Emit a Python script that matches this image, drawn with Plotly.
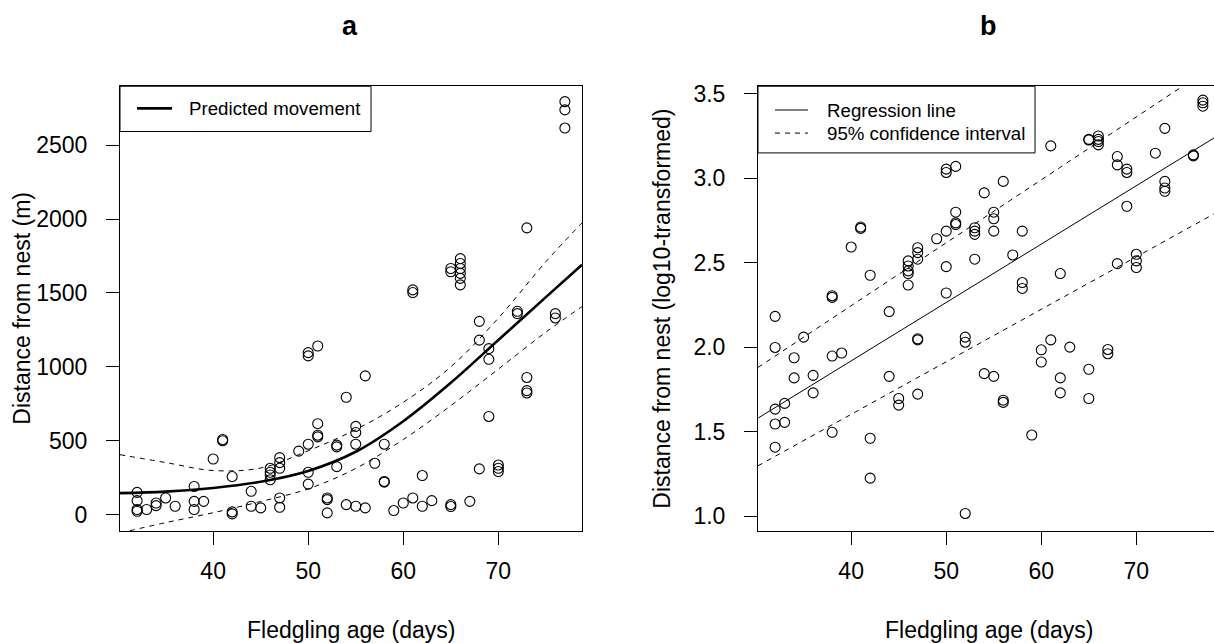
import plotly.graph_objects as go

# ---------------- Panel a data ----------------
age_a = [77, 77, 77, 73, 66, 66, 66, 66, 66, 66, 65, 65, 61, 61, 68, 68, 69, 69,
         72, 72, 76, 76, 73, 73, 73, 69, 70, 70, 70, 68, 50, 50, 51, 56, 54,
         51, 51, 51, 50, 49, 53, 53, 55, 55, 55, 58, 57, 58, 58, 62, 53, 50, 50,
         47, 47, 47, 46, 46, 46, 46, 41, 41, 40, 42, 38, 38, 38, 39, 35, 34, 34,
         32, 32, 32, 32, 33, 36, 42, 42, 44, 44, 45, 47, 47, 52, 52, 52, 54, 55,
         56, 59, 60, 61, 62, 63, 65, 65, 67]
dist_a = [2796, 2740, 2617, 1941, 1733, 1700, 1666, 1633, 1599, 1555, 1666, 1644,
          1521, 1503, 1308, 1181, 1123, 1051, 1376, 1360, 1360, 1331, 928, 839, 823,
          664, 335, 313, 291, 309, 1096, 1074, 1141, 939, 794, 615, 537, 526, 476,
          429, 470, 458, 597, 555, 476, 476, 347, 224, 219, 264, 324, 286, 206,
          385, 351, 313, 313, 286, 268, 235, 508, 499, 376, 257, 190, 89, 34, 89,
          112, 78, 60, 150, 94, 34, 22, 34, 56, 18, 4, 157, 56, 45, 112, 49, 112,
          101, 11, 67, 56, 45, 27, 78, 112, 56, 94, 67, 54, 89]

curve_x = [30.2, 35, 40, 45, 50, 55, 60, 65, 70, 75, 78.8]
pred_y = [145, 155, 180, 222, 295, 425, 632, 892, 1182, 1472, 1692]
up_y = [405, 352, 298, 315, 432, 575, 760, 1000, 1330, 1712, 1975]
lo_y = [-125, -55, 12, 88, 174, 312, 508, 737, 985, 1235, 1408]

# ---------------- Panel b data ----------------
age_b = [77, 77, 77, 73, 72, 76, 76, 65, 65, 66, 66, 66, 66, 61, 68, 68, 69, 69, 69,
         73, 73, 73, 50, 50, 51, 56, 54, 51, 51, 51, 55, 55, 55, 53, 53, 53, 50, 49,
         58, 57, 53, 50, 50, 47, 47, 47, 46, 46, 46, 46, 46, 41, 41, 40, 42, 38, 38,
         32, 44, 47, 47, 52, 52, 61, 63, 60, 60, 67, 67, 58, 58, 62, 68, 70, 70, 70,
         32, 35, 34, 34, 38, 39, 36, 36, 44, 32, 33, 32, 33, 32, 38, 45, 45, 47, 54,
         55, 56, 56, 62, 62, 65, 65, 59, 42, 42, 52]
logd_b = [3.461, 3.445, 3.425, 3.294, 3.147, 3.131, 3.137, 3.229, 3.225, 3.249,
          3.229, 3.216, 3.196, 3.190, 3.127, 3.078, 3.053, 3.033, 2.833, 2.980,
          2.941, 2.922, 3.053, 3.033, 3.069, 2.980, 2.912, 2.798, 2.735, 2.725,
          2.798, 2.759, 2.686, 2.706, 2.686, 2.667, 2.686, 2.641, 2.686, 2.545,
          2.520, 2.476, 2.320, 2.588, 2.559, 2.520, 2.510, 2.480, 2.451, 2.435,
          2.367, 2.710, 2.702, 2.592, 2.425, 2.304, 2.294, 2.182, 2.210, 2.049,
          2.043, 2.059, 2.029, 2.043, 2.000, 1.984, 1.912, 1.986, 1.961, 2.382,
          2.347, 2.435, 2.494, 2.549, 2.510, 2.471, 1.998, 2.059, 1.937, 1.818,
          1.947, 1.965, 1.833, 1.729, 1.827, 1.633, 1.667, 1.545, 1.555, 1.408,
          1.496, 1.696, 1.657, 1.722, 1.843, 1.827, 1.686, 1.673, 1.818, 1.729,
          1.869, 1.696, 1.480, 1.461, 1.225, 1.016]

line_x = [30.2, 78.2]
reg_y = [1.580, 3.238]
ci_up_y = [1.880, 3.667]
ci_lo_y = [1.298, 2.789]

x_ticks = [40, 50, 60, 70]
ya_ticks = [0, 500, 1000, 1500, 2000, 2500]
yb_ticks = [1.0, 1.5, 2.0, 2.5, 3.0, 3.5]

FONT = "Liberation Sans, Arial, sans-serif"
W, H = 1214, 643

fig = go.Figure()
marker = dict(symbol="circle-open", size=10, color="black", line=dict(width=1.1, color="black"))
fig.add_trace(go.Scatter(x=age_a, y=dist_a, mode="markers", marker=marker,
                         xaxis="x", yaxis="y", showlegend=False))
fig.add_trace(go.Scatter(x=curve_x, y=pred_y, mode="lines",
                         line=dict(color="black", width=2.6, shape="spline", smoothing=1.0),
                         xaxis="x", yaxis="y", showlegend=False))
for ys in [up_y, lo_y]:
    fig.add_trace(go.Scatter(x=curve_x, y=ys, mode="lines",
                             line=dict(color="black", width=1, dash="5px,5px", shape="spline", smoothing=1.0),
                             xaxis="x", yaxis="y", showlegend=False))

fig.add_trace(go.Scatter(x=age_b, y=logd_b, mode="markers", marker=marker,
                         xaxis="x2", yaxis="y2", showlegend=False))
fig.add_trace(go.Scatter(x=line_x, y=reg_y, mode="lines", line=dict(color="black", width=1),
                         xaxis="x2", yaxis="y2", showlegend=False))
for ys in [ci_up_y, ci_lo_y]:
    fig.add_trace(go.Scatter(x=line_x, y=ys, mode="lines",
                             line=dict(color="black", width=1, dash="5px,5px"),
                             xaxis="x2", yaxis="y2", showlegend=False))

def px(x):
    return x / W

def py(y):
    return 1 - y / H

tickfont = dict(family=FONT, size=23, color="black")
common_x = dict(showgrid=False, zeroline=False, showline=True, linecolor="black", linewidth=1,
                ticks="outside", ticklen=13, tickwidth=1, tickcolor="black",
                tickvals=x_ticks, tickfont=tickfont, ticklabelstandoff=6, fixedrange=True)
common_y = dict(showgrid=False, zeroline=False, showline=True, linecolor="black", linewidth=1,
                ticks="outside", ticklen=13, tickwidth=1, tickcolor="black",
                tickfont=tickfont, ticklabelstandoff=14, fixedrange=True)

bot, top = 530, 81
fig.update_layout(
    width=W, height=H,
    margin=dict(l=0, r=0, t=0, b=0),
    paper_bgcolor="white", plot_bgcolor="white",
    font=dict(family=FONT, color="black"),
    xaxis=dict(domain=[px(120), px(582)], range=[30.2, 78.8], anchor="y", mirror=True, **common_x),
    yaxis=dict(domain=[py(bot), py(top)], range=[-112, 2900], anchor="x", mirror=True,
               tickvals=ya_ticks, **common_y),
    xaxis2=dict(domain=[px(758), 1.0], range=[30.2, 78.17], anchor="y2", mirror=True, **common_x),
    yaxis2=dict(domain=[py(bot), py(top)], range=[0.912, 3.543], anchor="x2", mirror=False,
                tickvals=yb_ticks, tickformat=".1f", **common_y),
)

ann = []
def add_text(text, x, y, size=23, angle=0, xanchor="center", bold=False):
    ann.append(dict(text=(f"<b>{text}</b>" if bold else text), x=px(x), y=py(y),
                    xref="paper", yref="paper", showarrow=False, textangle=angle,
                    xanchor=xanchor, yanchor="middle",
                    font=dict(family=FONT, size=size, color="black")))

add_text("a", 350, 20, size=27, bold=True)
add_text("b", 988, 20, size=27, bold=True)
add_text("Fledgling age (days)", 351, 630)
add_text("Fledgling age (days)", 989, 630)
add_text("Distance from nest (m)", 22, 305.5, angle=-90)
add_text("Distance from nest (log10-transformed)", 662, 305.5, angle=-90)

# legends
add_text("Predicted movement", 187, 103.5, size=18.7, xanchor="left")
add_text("Regression line", 825, 105, size=18.7, xanchor="left")
add_text("95% confidence interval", 825, 128.3, size=18.7, xanchor="left")

shapes = [
    dict(type="rect", xref="paper", yref="paper", x0=px(120), x1=px(371), y0=py(126.7), y1=py(81),
         line=dict(color="black", width=1), fillcolor="white", layer="above"),
    dict(type="line", xref="paper", yref="paper", x0=px(137), x1=px(172), y0=py(103.3), y1=py(103.3),
         line=dict(color="black", width=2.6), layer="above"),
    dict(type="rect", xref="paper", yref="paper", x0=px(758), x1=px(1035), y0=py(148.3), y1=py(81),
         line=dict(color="black", width=1), fillcolor="white", layer="above"),
    dict(type="line", xref="paper", yref="paper", x0=px(775), x1=px(808), y0=py(105), y1=py(105),
         line=dict(color="black", width=1), layer="above"),
    dict(type="line", xref="paper", yref="paper", x0=px(775), x1=px(808), y0=py(128.3), y1=py(128.3),
         line=dict(color="black", width=1, dash="5px,5px"), layer="above"),
]
fig.update_layout(annotations=ann, shapes=shapes)

fig.write_html("out.html", config={"displayModeBar": False},
               post_script="document.body.style.margin='0px';document.body.style.padding='0px';"
                           "document.documentElement.style.overflow='hidden';")
